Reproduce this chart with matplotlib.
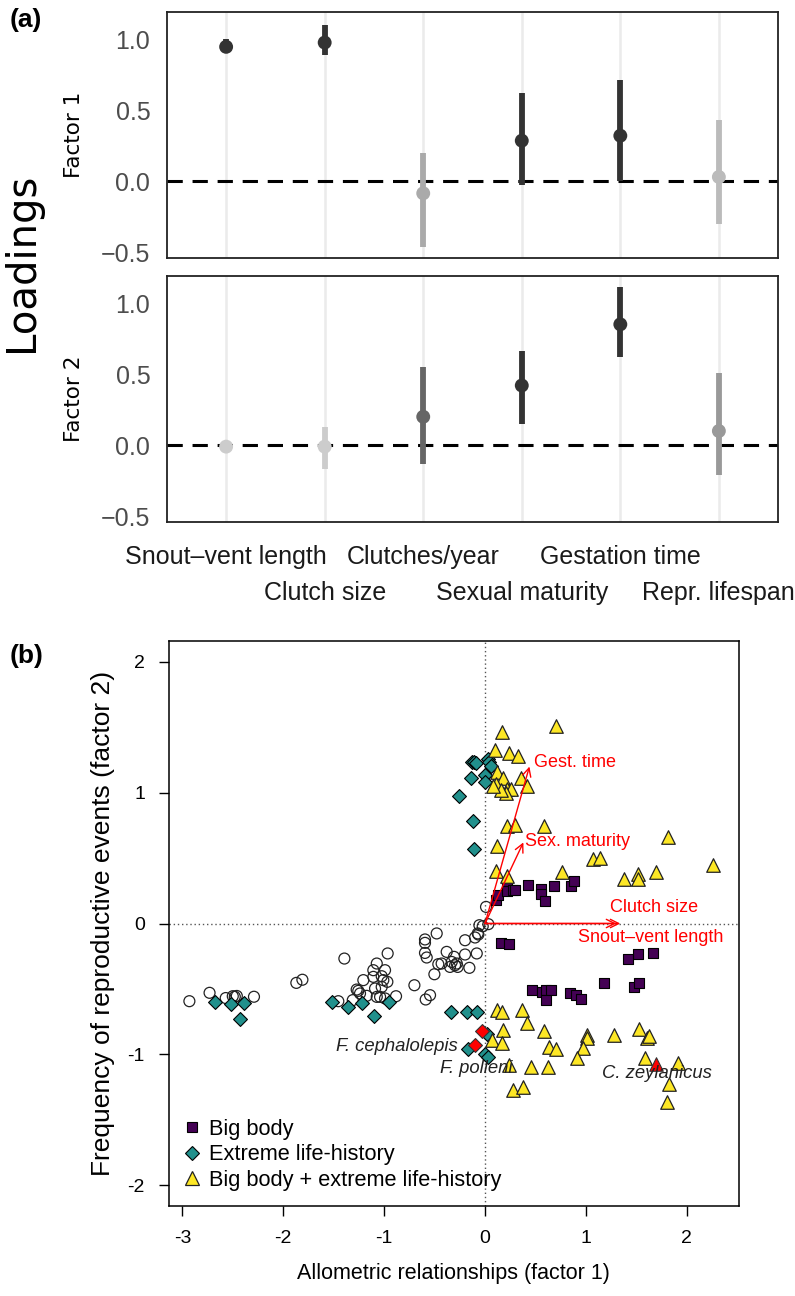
import numpy as np
import matplotlib
matplotlib.use("Agg")
import matplotlib.pyplot as plt
from matplotlib.lines import Line2D

# ---- panel (a): posterior factor loadings ----
traits = ["Snout\u2013vent length", "Clutch size", "Clutches/year",
          "Sexual maturity", "Gestation time", "Repr. lifespan"]
f1_mean = [0.945, 0.975, -0.085, 0.285, 0.32, 0.03]
f1_lo = [0.91, 0.89, -0.46, -0.03, 0.005, -0.30]
f1_hi = [1.0, 1.10, 0.20, 0.62, 0.71, 0.43]
f1_shade = ["#333333", "#333333", "#AAAAAA", "#333333", "#333333", "#BBBBBB"]
f2_mean = [-0.01, -0.01, 0.20, 0.42, 0.85, 0.10]
f2_lo = [-0.02, -0.17, -0.13, 0.15, 0.62, -0.21]
f2_hi = [0.0, 0.13, 0.55, 0.66, 1.11, 0.51]
f2_shade = ["#CCCCCC", "#CCCCCC", "#666666", "#333333", "#333333", "#999999"]

# ---- panel (b): species scores ----
other_x = [-2.93, -2.73, -2.57, -2.50, -2.46, -2.48, -2.29, -1.87, -1.81, -1.454,
           -1.394, -1.311, -1.272, -1.256, -1.239, -1.206, -1.173, -1.107, -1.107, -1.09,
           -1.073, -1.073, -1.024, -1.024, -1.008, -0.991, -1.04, -0.991, -0.968, -0.965,
           -0.882, -0.70, -0.595, -0.595, -0.595, -0.578, -0.479, -0.545, -0.588, -0.502,
           -0.463, -0.43, -0.38, -0.347, -0.33, -0.307, -0.297, -0.271, -0.28, -0.198,
           -0.198, -0.155, -0.099, -0.082, -0.072, -0.056, -0.023, 0.01, 0.033, -0.066]
other_y = [-0.594, -0.53, -0.57, -0.556, -0.554, -0.56, -0.56, -0.454, -0.43, -0.594,
           -0.268, -0.586, -0.505, -0.515, -0.535, -0.433, -0.553, -0.357, -0.408, -0.497,
           -0.306, -0.561, -0.403, -0.485, -0.433, -0.357, -0.561, -0.573, -0.446, -0.229,
           -0.556, -0.472, -0.122, -0.148, -0.225, -0.26, -0.076, -0.548, -0.581, -0.388,
           -0.311, -0.306, -0.217, -0.332, -0.294, -0.255, -0.319, -0.332, -0.306, -0.128,
           -0.237, -0.339, -0.107, -0.229, -0.076, -0.013, -0.021, 0.127, -0.005, -0.084]

extreme_x = [-2.68, -2.52, -2.39, -2.43, -1.52, -1.355, -1.216, -1.10, -0.948, -0.34,
             -0.175, -0.076, 0.023, -0.165, 0.0, 0.033, -0.132, -0.106, -0.089, 0.027,
             0.043, 0.06, -0.142, 0.0, 0.0, -0.255, -0.116, -0.109]
extreme_y = [-0.60, -0.617, -0.607, -0.727, -0.60, -0.642, -0.607, -0.709, -0.60, -0.68,
             -0.676, -0.676, -0.846, -0.963, -1.0, -1.02, 1.236, 1.236, 1.228, 1.254,
             1.236, 1.203, 1.116, 1.134, 1.083, 0.973, 0.782, 0.566]

bigbody_x = [0.106, 0.126, 0.215, 0.221, 0.274, 0.297, 0.43, 0.552, 0.552, 0.595,
             0.687, 0.852, 0.882, 0.156, 0.241, 1.513, 1.662, 1.414, 0.463, 0.562,
             0.605, 0.654, 0.605, 0.842, 0.902, 0.948, 1.182, 1.48, 1.526]
bigbody_y = [0.178, 0.216, 0.293, 0.249, 0.255, 0.255, 0.293, 0.26, 0.224, 0.173,
             0.29, 0.29, 0.326, -0.148, -0.158, -0.235, -0.229, -0.275, -0.505, -0.523,
             -0.505, -0.505, -0.586, -0.535, -0.543, -0.581, -0.454, -0.484, -0.454]

both_x = [0.70, 0.165, 0.099, 0.241, 0.324, 0.116, 0.181, 0.357, 0.413, 0.109,
          0.215, 0.255, 0.208, 0.159, 0.082, 0.215, 0.297, 0.588, 0.116, 0.109,
          0.215, 0.766, 1.073, 1.14, 1.81, 1.38, 1.52, 1.52, 1.69, 2.263,
          0.116, 0.165, 0.37, 0.413, 0.181, 0.585, 0.072, 0.165, 0.634, 0.704,
          1.008, 1.014, 0.968, 0.908, 1.279, 1.526, 1.602, 1.625, 1.586, 1.916,
          1.823, 1.80, 0.241, 0.453, 0.621, 0.28, 0.38]
both_y = [1.51, 1.465, 1.325, 1.305, 1.282, 1.159, 1.116, 1.116, 1.052, 1.065,
          1.032, 1.032, 0.994, 1.02, 1.05, 0.744, 0.752, 0.744, 0.593, 0.40,
          0.362, 0.39, 0.492, 0.502, 0.662, 0.339, 0.375, 0.344, 0.395, 0.451,
          -0.658, -0.676, -0.658, -0.757, -0.816, -0.821, -0.887, -0.91, -0.943, -0.963,
          -0.849, -0.879, -0.951, -1.027, -0.849, -0.808, -0.872, -0.859, -1.032, -1.066,
          -1.231, -1.364, -1.083, -1.096, -1.096, -1.274, -1.249]

# named species, highlighted in red
named = ["F. cephalolepis", "F. polleni", "C. zeylanicus"]
named_x = [-0.099, -0.027, 1.69]
named_y = [-0.93, -0.821, -1.076]
named_marker = ["D", "D", "^"]
named_lab_x = [-0.27, -0.09, 1.70]
named_lab_y = [-0.94, -1.11, -1.145]
named_ha = ["right", "center", "center"]

# trait vectors
vec_names = ["Snout\u2013vent length", "Clutch size", "Sex. maturity", "Gest. time"]
vec_x = [1.34, 1.30, 0.38, 0.44]
vec_y = [0.0, 0.0, 0.62, 1.20]
vec_lab_x = [1.64, 1.68, 0.40, 0.485]
vec_lab_y = [-0.11, 0.12, 0.63, 1.23]
vec_ha = ["center", "center", "left", "left"]

plt.rcParams["font.family"] = ["Liberation Sans", "DejaVu Sans"]
plt.rcParams["axes.unicode_minus"] = False

fig = plt.figure(figsize=(7.95, 12.96), dpi=100)

W, H = 795.0, 1296.0


def px_axes(left, top, right, bottom):
    return fig.add_axes([left / W, 1 - bottom / H, (right - left) / W, (bottom - top) / H])


pos = np.arange(1, len(traits) + 1)
panels = [(f1_mean, f1_lo, f1_hi, f1_shade, "Factor 1", 12, 258),
          (f2_mean, f2_lo, f2_hi, f2_shade, "Factor 2", 276, 522)]
for i, (mean, lo, hi, shade, lab, top, bot) in enumerate(panels):
    ax = px_axes(167, top, 778, bot)
    for p in pos:
        ax.axvline(p, color="#EBEBEB", lw=1.8, zorder=0)
    ax.axhline(0, color="black", lw=2.2, dashes=(5, 3.2), zorder=1)
    ax.vlines(pos, lo, hi, colors=shade, lw=4.2, zorder=2)
    ax.scatter(pos, mean, s=100, c=shade, edgecolors="none", zorder=3)
    ax.set_xlim(0.4, 6.6)
    ax.set_ylim(-0.54, 1.19)
    ax.set_yticks([-0.5, 0.0, 0.5, 1.0])
    ax.set_yticklabels(["\u22120.5", "0.0", "0.5", "1.0"], fontsize=18, color="#4D4D4D")
    ax.tick_params(axis="y", length=0, pad=12)
    ax.set_xticks([])
    for sp in ax.spines.values():
        sp.set_linewidth(1.3)
        sp.set_color("#222222")
    ax.set_ylabel(lab, fontsize=15.5, family="DejaVu Sans", labelpad=12)
    if i == 1:
        # staggered trait names in two rows
        for k, (p, t) in enumerate(zip(pos, traits)):
            ax.text(p, -35 / 246 if k % 2 == 0 else -71 / 246, t, transform=ax.get_xaxis_transform(),
                    fontsize=18, color="#1A1A1A", ha="center", va="center")

fig.text(22 / W, 1 - 262 / H, "Loadings", rotation=90, fontsize=29, family="DejaVu Sans",
         ha="center", va="center")
fig.text(10 / W, 1 - 20 / H, "(a)", fontsize=19, fontweight="bold", ha="left", va="center")
fig.text(10 / W, 1 - 656 / H, "(b)", fontsize=19, fontweight="bold", ha="left", va="center")

# ---- panel (b) ----
bx = px_axes(168.6, 641, 739, 1206)
bx.axhline(0, color="#555555", lw=1, ls=(0, (1, 2)), zorder=0)
bx.axvline(0, color="#555555", lw=1, ls=(0, (1, 2)), zorder=0)
bx.scatter(other_x, other_y, s=62, facecolors="none", edgecolors="#222222", lw=0.9, zorder=2)
bx.scatter(bigbody_x, bigbody_y, s=52, marker="s", c="#440154", edgecolors="black", lw=0.8, zorder=3)
bx.scatter(extreme_x, extreme_y, s=50, marker="D", c="#21908C", edgecolors="black", lw=0.8, zorder=3)
bx.scatter(both_x, both_y, s=95, marker="^", c="#FDE725", edgecolors="#222222", lw=0.9, zorder=3)
for x, y, m in zip(named_x, named_y, named_marker):
    bx.scatter([x], [y], s=95 if m == "^" else 50, marker=m, c="#FF0000", edgecolors="#333333",
               lw=0.8, zorder=4)
for t, x, y, ha in zip(named, named_lab_x, named_lab_y, named_ha):
    bx.text(x, y, t, fontsize=13.3, style="italic", ha=ha, va="center", color="#222222", zorder=5)

for t, x, y, lx, ly, ha in zip(vec_names, vec_x, vec_y, vec_lab_x, vec_lab_y, vec_ha):
    bx.annotate("", xy=(x, y), xytext=(0, 0),
                arrowprops=dict(arrowstyle="->", color="#FF0000", lw=1.0, mutation_scale=15,
                                shrinkA=0, shrinkB=0), zorder=5)
    bx.text(lx, ly, t, fontsize=13, color="#FF0000", ha=ha, va="center", zorder=5)

bx.set_xlim(-3.136, 2.517)
bx.set_ylim(-2.16, 2.16)
bx.set_xticks([-3, -2, -1, 0, 1, 2])
bx.set_yticks([-2, -1, 0, 1, 2])
bx.tick_params(labelsize=14, length=7, width=1, pad=10)
for sp in bx.spines.values():
    sp.set_linewidth(1.1)
bx.set_xlabel("Allometric relationships (factor 1)", fontsize=15.5, labelpad=12)
bx.set_ylabel("Frequency of reproductive events (factor 2)", fontsize=19, labelpad=9)

handles = [Line2D([], [], ls="none", marker="s", ms=7.5, mfc="#440154", mec="black", mew=0.8),
           Line2D([], [], ls="none", marker="D", ms=7, mfc="#21908C", mec="black", mew=0.8),
           Line2D([], [], ls="none", marker="^", ms=10, mfc="#FDE725", mec="#222222", mew=0.9)]
bx.legend(handles, ["Big body", "Extreme life-history", "Big body + extreme life-history"],
          loc="lower left", frameon=False, fontsize=15.7, handletextpad=0.3, handlelength=1.0,
          labelspacing=0.2, borderaxespad=0.3, bbox_to_anchor=(-0.005, 0.0))

fig.savefig("out.png", dpi=100)
